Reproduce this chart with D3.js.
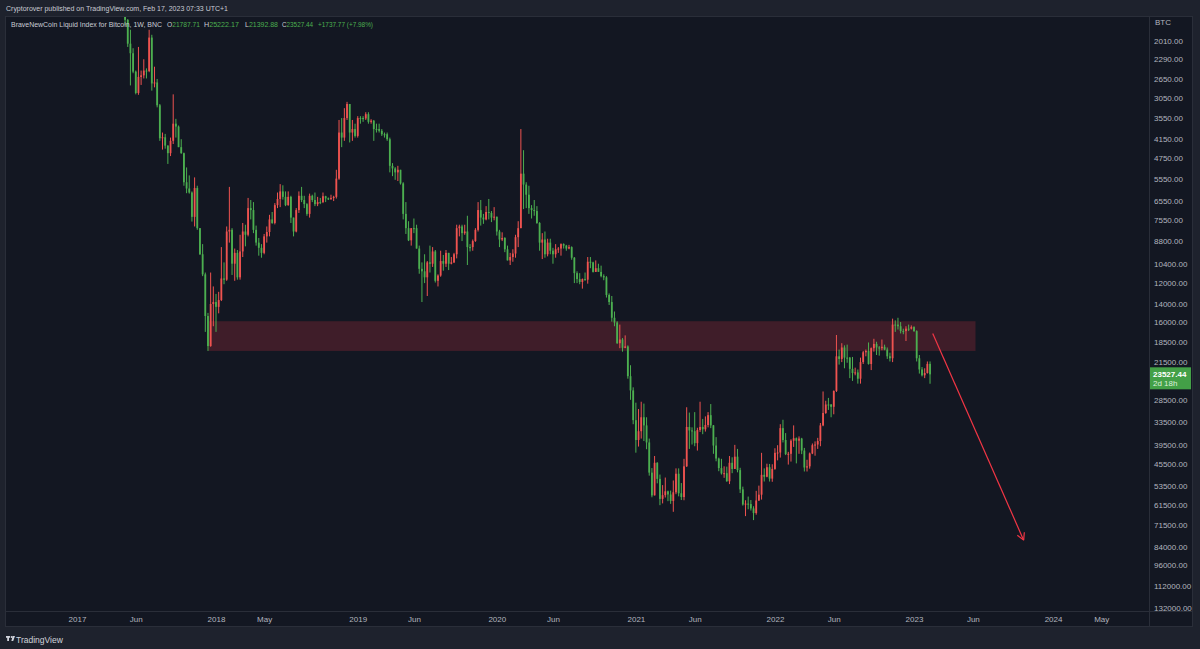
<!DOCTYPE html>
<html>
<head>
<meta charset="utf-8">
<script src="https://cdn.jsdelivr.net/npm/d3@7"></script>
<style>
  body { margin: 0; background: #1e222d; }
  svg { display: block; font-family: "Liberation Sans", Arial, sans-serif; }
</style>
</head>
<body>
<svg id="chart" width="1200" height="649"></svg>
<script>
// BNC:BLX weekly candles, rows are [open, high, low, close]
const start2017 = "2017-05-01";
const candles2017 = [
  [1420,1620,1410,1560],[1560,1790,1550,1720],[1720,2100,1710,2050],[2050,2790,1850,2200],[2200,2550,2120,2520],
  [2520,2980,2500,2950],[2950,2990,2100,2620],[2620,2780,2500,2590],[2590,2650,2300,2500],
  [2500,2650,2460,2510],[2510,2530,1850,1960],[1960,2900,1920,2750],[2750,2830,2430,2730],[2730,3280,2660,3230],
  [3230,4200,3200,4120],[4120,4480,3950,4090],[4090,4450,3990,4350],[4350,4980,4340,4600],
  [4600,4700,4100,4200],[4200,4300,2980,3700],[3700,4100,3570,3780],[3780,4400,3750,4400],
  [4400,4620,4150,4600],[4600,5850,4580,5700],[5700,6180,5110,5970],[5970,6200,5420,6150],[6150,7620,6100,7360],
  [7360,7900,5500,5950],[5950,8100,5850,8000],[8000,9750,7990,9700],[9700,11400,9000,11250],
  [11250,17200,11100,15300],[15300,19800,14950,19100],[19100,19200,11100,14000],[14000,16500,12300,13800]
];
const start2018 = "2018-01-01";
const candles2018 = [
  [13800,17200,13000,14300],[14300,15000,12800,13600],[13600,13700,9200,11600],[11600,12100,10300,11700],[11700,11800,7900,8200],
  [8200,8900,5900,8100],[8100,11300,8000,10400],[10400,11800,9300,9600],[9600,11700,9400,11500],
  [11500,11700,8400,9500],[9500,9900,7700,8200],[8200,9150,7800,8400],[8400,8500,6400,6900],
  [6900,7500,6500,7000],[7000,8300,6600,8100],[8100,9100,7850,8900],[8900,9800,8600,9250],[9250,9950,9000,9600],
  [9600,9700,8350,8500],[8500,8900,7900,8230],[8230,8500,7250,7500],[7500,7750,7100,7700],
  [7700,7780,6650,6750],[6750,6900,6150,6450],[6450,6850,5780,6100],[6100,6480,5830,6350],
  [6350,6800,6100,6750],[6750,6780,6100,6350],[6350,7700,6300,7400],[7400,8500,7400,8200],[8200,8250,6900,7000],
  [7000,7150,6100,6300],[6300,6600,5900,6500],[6500,6900,6300,6700],[6700,7300,6650,7200],
  [7200,7400,6200,6300],[6300,6600,6250,6500],[6500,6800,6150,6700],[6700,6800,6350,6600],
  [6600,6700,6400,6600],[6600,6650,6150,6320],[6320,6600,6300,6420],[6420,6500,6380,6430],[6430,6500,6250,6400],
  [6400,6550,6300,6350],[6350,6430,5200,5550],[5550,5600,3600,3950],[3950,4400,3550,4100],
  [4100,4200,3300,3550],[3550,3600,3150,3200],[3200,4250,3200,3950],[3950,4200,3600,3850]
];
const start2019 = "2018-12-31";
const candles2019 = [
  [3850,4100,3700,4050],[4050,4100,3500,3550],[3550,3700,3500,3550],[3550,3650,3500,3560],[3560,3600,3400,3450],
  [3450,3700,3400,3650],[3650,3700,3580,3620],[3620,4200,3600,3850],[3850,3950,3700,3850],
  [3850,3950,3700,3900],[3900,4050,3850,4000],[4000,4100,3950,4000],[4000,4200,3950,4150],
  [4150,5300,4100,5050],[5050,5450,4950,5150],[5150,5600,5100,5300],[5300,5650,5050,5200],[5200,5800,5200,5750],
  [5750,7500,5700,7200],[7200,8350,6600,8000],[8000,8800,7600,8750],[8750,9100,8000,8000],
  [8000,8300,7450,8000],[8000,9300,7800,9300],[9300,11200,9100,10800],[10800,13800,10300,11000],
  [11000,12000,9700,11500],[11500,13200,10200,10300],[10300,11100,9100,10400],[10400,10650,9200,9500],[9500,11950,9400,11800],
  [11800,12300,11250,11350],[11350,11450,9450,10200],[10200,10950,9750,10400],[10400,10650,9400,9600],
  [9600,10900,9600,10400],[10400,10450,9900,10300],[10300,10350,9600,9700],[9700,10000,7800,8000],[8000,8500,7800,7900],
  [7900,8800,7800,8300],[8300,8400,7800,8200],[8200,10500,7300,9200],[9200,9500,9000,9200],
  [9200,9450,8700,8800],[8800,8850,8000,8100],[8100,8200,6600,7000],[7000,7850,6500,7400],
  [7400,7750,7200,7500],[7500,7550,6800,7100],[7100,7500,6450,7150],[7150,7650,7050,7400]
];
const start2020 = "2019-12-30";
const candles2020 = [
  [7400,7550,6850,7350],
  [7350,8450,7350,8200],[8200,9200,8100,8700],[8700,8800,8250,8600],[8600,9550,8550,9350],
  [9350,10150,9100,10150],[10150,10500,9600,9900],[9900,10250,9350,9650],[9650,9950,8400,8550],
  [8550,9200,7600,8000],[8000,8000,3850,5350],[5350,6950,4500,5800],[5800,6900,5700,6250],[6250,7200,5850,6900],
  [6900,7450,6750,7000],[7000,7300,6500,7050],[7050,7750,6800,7700],[7700,9450,7650,8900],
  [8900,10050,8300,8700],[8700,9950,8200,9700],[9700,9850,8650,8900],[8900,9700,8650,9450],
  [9450,10400,9250,9700],[9700,9950,9000,9350],[9350,9600,9200,9300],[9300,9800,8950,9000],[9000,9300,8950,9100],
  [9100,9450,9050,9300],[9300,9350,9050,9200],[9200,10100,9150,9950],[9950,12000,9900,11150],
  [11150,12000,11000,11650],[11650,12100,11150,11900],[11900,12500,11600,11650],[11650,11800,11100,11700],[11700,12050,9900,10250],
  [10250,10750,9900,10300],[10300,11100,10250,11050],[11050,11050,10150,10750],[10750,10950,10400,11050],
  [11050,11500,10550,11400],[11400,11750,11250,11500],[11500,13350,11400,13100],[13100,14100,12950,13800],
  [13800,15950,13200,15500],[15500,16500,14800,16050],[16050,18800,15900,18700],[18700,19400,16300,18200],[18200,19900,18000,19350],
  [19350,19400,17650,19150],[19150,24300,19000,23850],[23850,28400,22000,26500],[26500,34000,25900,33000]
];
const start2021 = "2021-01-04";
const candles2021 = [
  [33000,41950,29000,38200],[38200,40100,30400,35800],[35800,37800,28800,32300],[32300,38500,29200,34300],
  [34300,40900,32300,38900],[38900,49700,37800,48600],[48600,58300,47000,57500],[57500,57500,43000,45200],
  [45200,52600,45000,50900],[50900,61800,49300,59000],[59000,61000,53300,57400],[57400,58400,50400,55800],[55800,60000,55500,57100],
  [57100,61200,55500,59900],[59900,64900,51500,56200],[56200,57000,47100,49000],[49000,57900,47100,56600],
  [56600,59500,52500,58200],[58200,59600,43900,46400],[46400,46600,30000,34700],[34700,40800,31200,35600],[35600,39500,34800,35800],
  [35800,40000,31100,39100],[39100,41300,34900,35500],[35500,36000,28800,34700],[34700,36600,32700,35300],
  [35300,35900,32100,34200],[34200,34800,31100,31800],[31800,35000,29300,34300],[34300,42300,34200,39800],
  [39800,44700,37400,43800],[43800,48100,43500,47000],[47000,49300,43900,48900],[48900,50500,46400,48800],[48800,52000,46500,51800],
  [51800,52900,43000,45200],[45200,48800,43400,47300],[47300,47300,39600,43200],[43200,48500,40800,47700],
  [47700,56500,46900,55000],[55000,62000,53900,61500],[61500,67000,59600,61100],[61100,63700,58000,61300],
  [61300,64300,59500,63300],[63300,69000,62300,65500],[65500,66300,55600,59700],[59700,59900,53500,57200],[57200,59300,42000,49400],
  [49400,51900,47100,50100],[50100,50300,45500,46700],[46700,51900,45600,50800],[50800,52000,45700,47300]
];
const start2022 = "2022-01-03";
const candles2022 = [
  [47300,47600,40600,42000],[42000,44400,39700,41900],[41900,43500,34000,35000],[35000,38900,32900,38200],
  [38200,42700,36300,42400],[42400,45800,41700,42300],[42300,44800,38000,38400],[38400,40200,34300,37700],[37700,45400,37500,38400],
  [38400,42300,37200,37800],[37800,42400,37600,41300],[41300,48200,40500,46800],[46800,48200,44200,46400],
  [46400,47200,41900,42200],[42200,42400,39200,39700],[39700,42900,38600,39500],[39500,40800,37600,38500],
  [38500,40000,33700,34300],[34300,34500,26700,31300],[31300,31500,28600,29400],[29400,30600,28000,29400],[29400,32300,29300,29900],
  [29900,31600,26500,26600],[26600,26800,17600,20600],[20600,21900,19600,21000],[21000,21500,18700,19300],
  [19300,22500,19000,20800],[20800,21600,18900,20800],[20800,24200,20700,22600],[22600,24700,20700,23300],
  [23300,23700,22400,23200],[23200,25200,22700,24300],[24300,25200,20800,21500],[21500,21800,19800,20000],[20000,20600,19600,19800],
  [19800,21900,18600,21800],[21800,22800,19300,19400],[19400,19900,18100,18800],[18800,20400,18500,19300],
  [19300,20500,19100,19400],[19400,19700,18200,19200],[19200,19700,18900,19600],[19600,21000,19300,20600],[20600,21400,20050,20900],
  [20900,21500,15600,16300],[16300,17200,15800,16300],[16300,16900,15500,16500],[16500,17400,16000,17100],
  [17100,17500,16800,17100],[17100,18400,16500,16800],[16800,17100,16300,16800],[16800,16900,16400,16600]
];
const start2023 = "2023-01-02";
const candles2023 = [
  [16600,17200,16500,17100],[17100,21400,17000,20900],[20900,23400,20400,22700],[22700,23900,22300,23700],
  [23700,24200,22500,23300],[23300,23400,21400,21787.71],[21787.71,25222.17,21392.88,23527.44]
];

// axis labels
const priceTicks = [2010, 2290, 2650, 3050, 3550, 4150, 4750, 5550, 6550, 7550, 8800, 10400, 12000, 14000,
  16000, 18500, 21500, 28500, 33500, 39500, 45500, 53500, 61500, 71500, 84000, 96000, 112000, 132000];
const timeTickDates = ["2017-01-02", "2017-06-05", "2018-01-01", "2018-05-07", "2019-01-07", "2019-06-03",
  "2020-01-06", "2020-06-01", "2021-01-04", "2021-06-07", "2022-01-03", "2022-06-06",
  "2023-01-02", "2023-06-05", "2024-01-01", "2024-05-06"];
const timeTickLabels = ["2017", "Jun", "2018", "May", "2019", "Jun", "2020", "Jun", "2021", "Jun",
  "2022", "Jun", "2023", "Jun", "2024", "May"];

// drawings
const zoneDates = ["2017-12-11", "2023-06-12"];
const zonePrices = [15900, 19800];
const arrowDates = ["2023-02-20", "2023-10-16"];
const arrowPrices = [17400, 80000];

// legend
const lastPrice = 23527.44;
const ohlcLetters = ["O", "H", "L", "C"];
const ohlcValues = ["21787.71", "25222.17", "21392.88", "23527.44"];
const changeText = "+1737.77 (+7.98%)";

const UP = "#4caf50", DOWN = "#ef5350";
const pane = {left: 5, top: 16, right: 1149, bottom: 611, outerRight: 1192, outerBottom: 626};

const data = [];
[[start2017, candles2017], [start2018, candles2018], [start2019, candles2019], [start2020, candles2020],
 [start2021, candles2021], [start2022, candles2022], [start2023, candles2023]].forEach(([s, rows]) => {
  const t0 = new Date(s + "T00:00:00Z");
  rows.forEach((r, i) => data.push({date: d3.utcDay.offset(t0, 7 * i), o: r[0], h: r[1], l: r[2], c: r[3]}));
});

const x = d3.scaleUtc()
  .domain([new Date("2018-01-01T00:00:00Z"), new Date("2023-01-02T00:00:00Z")])
  .range([216, 914]);
const y = d3.scaleLog().domain([2010, 132000]).range([41, 608]);
const utc = s => new Date(s + "T00:00:00Z");

const svg = d3.select("#chart");

svg.append("rect").attr("width", 1200).attr("height", 649).attr("fill", "#1e222d");

// frame
svg.append("rect")
  .attr("x", pane.left + 0.5).attr("y", pane.top + 0.5)
  .attr("width", pane.outerRight - pane.left).attr("height", pane.outerBottom - pane.top)
  .attr("fill", "#131722").attr("stroke", "#2a2e39");
svg.append("line")
  .attr("x1", pane.right + 0.5).attr("x2", pane.right + 0.5)
  .attr("y1", pane.top).attr("y2", pane.outerBottom)
  .attr("stroke", "#2a2e39");
svg.append("line")
  .attr("x1", pane.left).attr("x2", pane.outerRight)
  .attr("y1", pane.bottom + 0.5).attr("y2", pane.bottom + 0.5)
  .attr("stroke", "#2a2e39");

svg.append("text")
  .attr("x", 6).attr("y", 11)
  .attr("fill", "#c9ccd4").attr("font-size", 7)
  .attr("textLength", 222).attr("lengthAdjust", "spacingAndGlyphs")
  .text("Cryptorover published on TradingView.com, Feb 17, 2023 07:33 UTC+1");

svg.append("clipPath").attr("id", "paneClip")
  .append("rect")
  .attr("x", pane.left + 1).attr("y", pane.top + 1)
  .attr("width", pane.right - pane.left - 1).attr("height", pane.bottom - pane.top - 1);

const plot = svg.append("g").attr("clip-path", "url(#paneClip)");

// resistance zone
plot.append("rect")
  .attr("x", x(utc(zoneDates[0])))
  .attr("width", x(utc(zoneDates[1])) - x(utc(zoneDates[0])))
  .attr("y", y(zonePrices[0]))
  .attr("height", y(zonePrices[1]) - y(zonePrices[0]))
  .attr("fill", "rgba(242, 54, 69, 0.2)");

// legend
const legend = svg.append("g").attr("font-size", 6.9);
legend.append("text").attr("x", 11).attr("y", 27).attr("fill", "#c9ccd4")
  .attr("textLength", 151).attr("lengthAdjust", "spacingAndGlyphs")
  .text("BraveNewCoin Liquid Index for Bitcoin, 1W, BNC");
const itemX = [167, 204, 245, 282], itemW = [33, 35, 33, 31];
ohlcLetters.forEach((l, i) => {
  const t = legend.append("text").attr("x", itemX[i]).attr("y", 27)
    .attr("textLength", itemW[i]).attr("lengthAdjust", "spacingAndGlyphs");
  t.append("tspan").attr("fill", "#c9ccd4").text(l);
  t.append("tspan").attr("fill", UP).text(ohlcValues[i]);
});
legend.append("text").attr("x", 318).attr("y", 27).attr("fill", UP)
  .attr("textLength", 55).attr("lengthAdjust", "spacingAndGlyphs").text(changeText);

// candles
const candles = plot.append("g");
candles.selectAll("line")
  .data(data)
  .join("line")
  .attr("x1", d => x(d.date)).attr("x2", d => x(d.date))
  .attr("y1", d => y(d.h)).attr("y2", d => y(d.l))
  .attr("stroke", d => d.c >= d.o ? UP : DOWN)
  .attr("stroke-width", 1);
candles.selectAll("rect")
  .data(data)
  .join("rect")
  .attr("x", d => x(d.date) - 0.9)
  .attr("width", 1.8)
  .attr("y", d => Math.min(y(d.o), y(d.c)))
  .attr("height", d => Math.max(1, Math.abs(y(d.o) - y(d.c))))
  .attr("fill", d => d.c >= d.o ? UP : DOWN);

// arrow
const ax0 = x(utc(arrowDates[0])), ay0 = y(arrowPrices[0]);
const ax1 = x(utc(arrowDates[1])), ay1 = y(arrowPrices[1]);
plot.append("line")
  .attr("x1", ax0).attr("y1", ay0).attr("x2", ax1).attr("y2", ay1)
  .attr("stroke", "#f23645").attr("stroke-width", 1.2);
const ang = Math.atan2(ay1 - ay0, ax1 - ax0);
[-0.5, 0.5].forEach(da => {
  plot.append("line")
    .attr("x1", ax1).attr("y1", ay1)
    .attr("x2", ax1 - 8 * Math.cos(ang + da)).attr("y2", ay1 - 8 * Math.sin(ang + da))
    .attr("stroke", "#f23645").attr("stroke-width", 1.2);
});

// price axis
const yAxis = svg.append("g")
  .attr("transform", `translate(${pane.right + 5},0)`)
  .call(d3.axisRight(y).tickValues(priceTicks).tickFormat(d3.format(".2f")).tickSize(0).tickPadding(0));
yAxis.select(".domain").remove();
yAxis.selectAll("text").attr("fill", "#b2b5be").attr("font-size", 8)
  .attr("font-family", "Liberation Sans, Arial, sans-serif");
svg.append("text").attr("x", pane.right + 6).attr("y", 25)
  .attr("fill", "#b2b5be").attr("font-size", 8).text("BTC");

// last price label
const ly = y(lastPrice);
svg.append("rect")
  .attr("x", pane.right + 1).attr("y", ly - 7)
  .attr("width", pane.outerRight - pane.right - 2).attr("height", 22)
  .attr("fill", "#43a047");
svg.append("text").attr("x", pane.right + 4).attr("y", ly + 3)
  .attr("fill", "#ffffff").attr("font-size", 8).attr("font-weight", "bold").text(lastPrice.toFixed(2));
svg.append("text").attr("x", pane.right + 4).attr("y", ly + 12)
  .attr("fill", "#dcefdc").attr("font-size", 8).text("2d 18h");

// time axis
const xAxis = svg.append("g")
  .attr("transform", `translate(0,${pane.bottom + 5})`)
  .call(d3.axisBottom(x).tickValues(timeTickDates.map(utc))
    .tickFormat((d, i) => timeTickLabels[i]).tickSize(0).tickPadding(0));
xAxis.select(".domain").remove();
xAxis.selectAll("text").attr("fill", "#b2b5be").attr("font-size", 8)
  .attr("font-family", "Liberation Sans, Arial, sans-serif");

// footer logo
const logo = svg.append("g").attr("transform", "translate(6,636)").attr("fill", "#d1d4dc");
logo.append("rect").attr("x", 0).attr("y", 0).attr("width", 4).attr("height", 1.8);
logo.append("rect").attr("x", 1.2).attr("y", 0).attr("width", 1.8).attr("height", 5);
logo.append("circle").attr("cx", 5.6).attr("cy", 1).attr("r", 1);
logo.append("path").attr("d", "M6.6,0 L9,0 L7.2,5 L5.4,5 Z");
svg.append("text").attr("x", 16).attr("y", 643)
  .attr("fill", "#d1d4dc").attr("font-size", 8.5).text("TradingView");
</script>
</body>
</html>
